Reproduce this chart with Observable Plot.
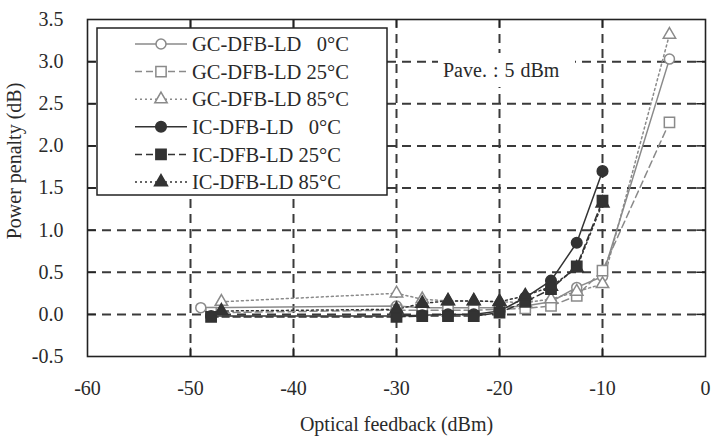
<!DOCTYPE html>
<html><head><meta charset="utf-8">
<script src="https://cdn.jsdelivr.net/npm/d3@7"></script>
<script src="https://cdn.jsdelivr.net/npm/@observablehq/plot@0.6"></script>
<style>
body{margin:0;background:#fff;}
#wrap{position:relative;width:715px;height:438px;font-family:"Liberation Serif","Times New Roman",serif;color:#2a2a2a;}
#wrap svg{position:absolute;left:0;top:0;}
#note{position:absolute;left:438px;top:53px;width:137px;height:34px;background:#fff;font-size:20px;line-height:34px;padding-left:5px;box-sizing:border-box;white-space:nowrap;word-spacing:1px;}
</style></head><body><div id="wrap"></div>
<script>
// ---- data ----
const xTicks = [-60, -50, -40, -30, -20, -10, 0];
const yTicks = [-0.5, 0, 0.5, 1, 1.5, 2, 2.5, 3, 3.5];
const xLabel = "Optical feedback (dBm)";
const yLabel = "Power penalty (dB)";
const note = "Pave. : 5 dBm";

const seriesNames = ["GC-DFB-LD \u20070°C", "GC-DFB-LD 25°C", "GC-DFB-LD 85°C",
                     "IC-DFB-LD \u20070°C", "IC-DFB-LD 25°C", "IC-DFB-LD 85°C"];

const gc0X  = [-49, -30, -27.5, -25, -22.5, -20, -17.5, -15, -12.5, -10, -3.5];
const gc0Y  = [0.08, 0.10, 0.08, 0.08, 0.08, 0.08, 0.10, 0.15, 0.32, 0.45, 3.03];
const gc25X = [-48, -30, -27.5, -25, -22.5, -20, -17.5, -15, -12.5, -10, -3.5];
const gc25Y = [0.02, 0.05, 0.05, 0.05, 0.05, 0.06, 0.07, 0.10, 0.22, 0.52, 2.28];
const gc85X = [-47, -30, -27.5, -25, -22.5, -20, -17.5, -15, -12.5, -10, -3.5];
const gc85Y = [0.15, 0.25, 0.18, 0.16, 0.16, 0.15, 0.14, 0.18, 0.27, 0.36, 3.32];
const ic0X  = [-48, -30, -27.5, -25, -22.5, -20, -17.5, -15, -12.5, -10];
const ic0Y  = [-0.02, -0.02, -0.01, 0.00, 0.00, 0.04, 0.20, 0.40, 0.85, 1.70];
const ic25X = [-48, -30, -27.5, -25, -22.5, -20, -17.5, -15, -12.5, -10];
const ic25Y = [-0.03, -0.03, -0.02, -0.02, -0.02, 0.02, 0.15, 0.30, 0.57, 1.35];
const ic85X = [-47, -30, -27.5, -25, -22.5, -20, -17.5, -15, -12.5, -10];
const ic85Y = [0.04, 0.06, 0.13, 0.16, 0.16, 0.15, 0.22, 0.33, 0.55, 1.32];

const seriesX = [gc0X, gc25X, gc85X, ic0X, ic25X, ic85X];
const seriesY = [gc0Y, gc25Y, gc85Y, ic0Y, ic25Y, ic85Y];

// ---- styles ----
const GRAY = "#8a8a8a", DARK = "#333333";
const styles = [
  {stroke: GRAY, dash: null,  symbol: "circle",   fill: "#fff", r: 5},
  {stroke: GRAY, dash: "7,4", symbol: "square",   fill: "#fff", r: 5.8},
  {stroke: GRAY, dash: "2,3", symbol: "triangle", fill: "#fff", r: 4.6},
  {stroke: DARK, dash: null,  symbol: "circle",   fill: DARK,   r: 5.3},
  {stroke: DARK, dash: "7,4", symbol: "square",   fill: DARK,   r: 5.8},
  {stroke: DARK, dash: "2,3", symbol: "triangle", fill: DARK,   r: 4.8}
];

const rows = seriesNames.map((name, i) => seriesX[i].map((x, j) => ({series: name, x, y: seriesY[i][j]})));

const W = 715, H = 438, ML = 87, MR = 10, MT = 19, MB = 82;
const font = "Liberation Serif, Times New Roman, serif";
const FS = 20;

const x0 = xTicks[0], x1 = xTicks[xTicks.length - 1];
const y0 = yTicks[0], y1 = yTicks[yTicks.length - 1];
const xIn = xTicks.slice(1, -1), yIn = yTicks.slice(1, -1);
const tickLenY = 0.1;   // data units (~8 px)
const tickLenX = 0.85;  // data units (~9 px)

const marks = [
  Plot.gridX(xIn, {stroke: "#3a3a3a", strokeOpacity: 1, strokeWidth: 2, strokeDasharray: "9,6"}),
  Plot.gridY(yIn, {stroke: "#3a3a3a", strokeOpacity: 1, strokeWidth: 2, strokeDasharray: "9,6"}),
  // inward ticks on all four sides
  Plot.ruleX(xIn, {x: d => d, y1: y0, y2: y0 + tickLenY, stroke: "#222", strokeWidth: 1.5}),
  Plot.ruleX(xIn, {x: d => d, y1: y1 - tickLenY, y2: y1, stroke: "#222", strokeWidth: 1.5}),
  Plot.ruleY(yIn, {y: d => d, x1: x0, x2: x0 + tickLenX, stroke: "#222", strokeWidth: 1.5}),
  Plot.ruleY(yIn, {y: d => d, x1: x1 - tickLenX, x2: x1, stroke: "#222", strokeWidth: 1.5}),
  Plot.frame({stroke: "#222", strokeWidth: 1.6}),
  Plot.axisX({ticks: xTicks, tickSize: 0, tickPadding: 24, tickFormat: d => String(d), fontSize: FS, fontFamily: font, label: null, fill: "#2a2a2a"}),
  Plot.axisY({ticks: yTicks, tickSize: 0, tickPadding: 24, tickFormat: d => d.toFixed(1), fontSize: FS, fontFamily: font, label: null, fill: "#2a2a2a"}),
  Plot.text([xLabel], {frameAnchor: "bottom", lineAnchor: "middle", textAnchor: "middle", dy: 68, fontSize: FS, fontFamily: font, fill: "#2a2a2a"}),
  Plot.text([yLabel], {frameAnchor: "left", lineAnchor: "middle", textAnchor: "middle", dx: -73, dy: -27, rotate: -90, fontSize: FS, fontFamily: font, fill: "#2a2a2a"})
];
rows.forEach((r, i) => {
  const s = styles[i];
  marks.push(Plot.line(r, {x: "x", y: "y", stroke: s.stroke, strokeWidth: 1.5, strokeDasharray: s.dash}));
});
rows.forEach((r, i) => {
  const s = styles[i];
  marks.push(Plot.dot(r, {x: "x", y: "y", symbol: () => s.symbol, r: s.r, fill: s.fill, stroke: s.stroke, strokeWidth: 1.5}));
});

const chart = Plot.plot({
  width: W, height: H,
  marginLeft: ML, marginRight: MR, marginTop: MT, marginBottom: MB,
  style: {fontFamily: font, background: "#fff", overflow: "visible"},
  x: {domain: [x0, x1]},
  y: {domain: [y0, y1]},
  symbol: {type: "identity"},
  marks
});
const wrap = document.getElementById("wrap");
wrap.appendChild(chart);

// ---- legend overlay ----
const leg = d3.select(wrap).append("svg").attr("width", W).attr("height", H).style("pointer-events", "none");
leg.append("rect").attr("x", 97).attr("y", 28).attr("width", 290).attr("height", 167)
  .attr("fill", "#fff").attr("stroke", "#222").attr("stroke-width", 1.5);
const symMap = {circle: d3.symbolCircle, square: d3.symbolSquare, triangle: d3.symbolTriangle};
seriesNames.forEach((name, i) => {
  const s = styles[i];
  const y = 44 + i * 27.6;
  leg.append("line").attr("x1", 135).attr("x2", 187).attr("y1", y).attr("y2", y)
    .attr("stroke", s.stroke).attr("stroke-width", 1.5).attr("stroke-dasharray", s.dash);
  leg.append("path").attr("transform", `translate(161,${y})`)
    .attr("d", d3.symbol(symMap[s.symbol], Math.PI * s.r * s.r)())
    .attr("fill", s.fill).attr("stroke", s.stroke).attr("stroke-width", 1.5);
  leg.append("text").attr("x", 192).attr("y", y).attr("dy", "0.35em")
    .attr("font-family", font).attr("font-size", 20.5).attr("fill", "#2a2a2a").text(name);
});

const n = document.createElement("div");
n.id = "note"; n.textContent = note;
wrap.appendChild(n);
</script></body></html>
